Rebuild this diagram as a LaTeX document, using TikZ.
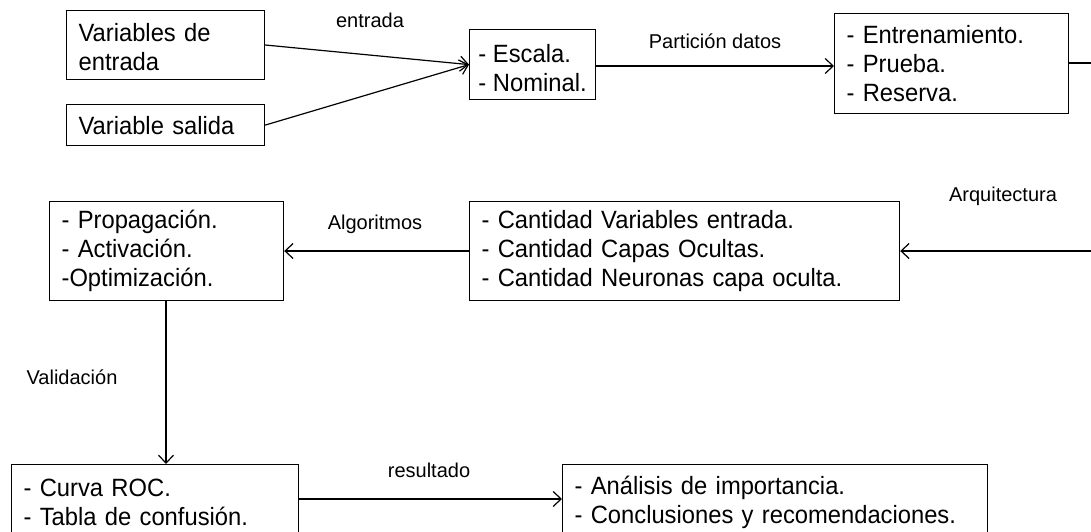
\documentclass[tikz,border=0pt]{standalone}
\usepackage{fontspec}
\setmainfont{Liberation Sans}
\newfontfamily\boxfont[FakeStretch=0.95]{Liberation Sans}
\usetikzlibrary{arrows.meta}
\begin{document}
\begin{tikzpicture}[x=1pt,y=-1pt,
  box/.style={draw, line width=1.2pt, align=left, anchor=north west,
    inner xsep=12pt, inner ysep=0pt, font=\boxfont\fontsize{25}{29}\selectfont},
  lbl/.style={font=\fontsize{20}{24}\selectfont, inner sep=0pt},
  conn/.style={line width=1.2pt, -{Straight Barb[length=8pt,width=15pt,line width=1.2pt]}},
  plain/.style={line width=1.2pt}]
\useasboundingbox (0,0) rectangle (1091,532);
\clip (0,0) rectangle (1091,532);
% nodes
\node[box, text width=174pt, minimum height=69pt] (vin) at (66,10) {\rule{0pt}{23pt}Variables de\\entrada};
\node[box, text width=174pt, minimum height=41pt] (vout) at (66,104) {Variable salida};
\node[box, inner xsep=0pt, minimum width=126pt, minimum height=70pt] (esc) at (469,29) {\rule{0pt}{26pt}- Escala.\\- Nominal.};
\node[box, text width=210pt, minimum height=100pt] (ent) at (834,13) {- Entrenamiento.\\- Prueba.\\- Reserva.};
\node[box, text width=210pt, minimum height=99pt] (prop) at (49,201) {- Propagación.\\- Activación.\\-Optimización.};
\node[box, text width=406pt, minimum height=99pt] (cant) at (469,201) {- Cantidad Variables entrada.\\- Cantidad Capas Ocultas.\\- Cantidad Neuronas capa oculta.};
\node[box, text width=263pt, minimum height=75pt] (roc) at (11,464) {- Curva ROC.\\- Tabla de confusión.};
\node[box, text width=401pt, minimum height=75pt] (ana) at (562,464) {- Análisis de importancia.\\- Conclusiones y recomendaciones.};
% coordinates
\coordinate (escin) at (esc.west);
\coordinate (outR) at (1095,63);
\coordinate (inR) at (1095,251);
% connectors
\draw[conn] (vin.east |- 0,45) -- (escin);
\draw[conn] (vout.east) -- (escin);
\draw[conn] (esc.east |- 0,66) -- (ent.west |- 0,66);
\draw[plain] (ent.east |- 0,63) -- (outR);
\draw[conn] (inR) -- (cant.east |- 0,251);
\draw[conn] (cant.west |- 0,251) -- (prop.east |- 0,251);
\draw[conn] (prop.south -| 166,0) -- (roc.north -| 166,0);
\draw[conn] (roc.east |- 0,499) -- (ana.west |- 0,499);
% labels
\node[lbl] (l1) at (370,20) {entrada};
\node[lbl] (l2) at (715,41) {Partición datos};
\node[lbl] (l3) at (1003,196) {Arquitectura};
\node[lbl] (l4) at (375,224) {Algoritmos};
\node[lbl] (l5) at (72,377) {Validación};
\node[lbl] (l6) at (429,470) {resultado};
\end{tikzpicture}
\end{document}
